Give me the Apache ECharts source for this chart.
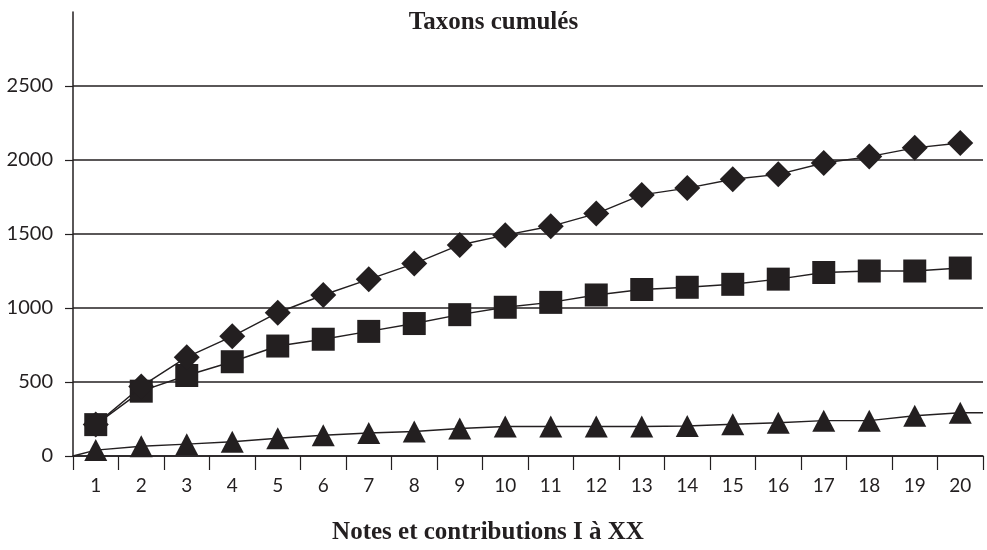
<!DOCTYPE html>
<html>
<head>
<meta charset="utf-8">
<script src="https://cdn.jsdelivr.net/npm/echarts@6/dist/echarts.min.js"></script>
<style>
html,body{margin:0;padding:0;background:#fff;}
#chart{width:987px;height:550px;}
</style>
</head>
<body>
<div id="chart"></div>
<script>
const categories = ['1','2','3','4','5','6','7','8','9','10','11','12','13','14','15','16','17','18','19','20'];
const diamondValues = [212, 470, 668, 809, 968, 1088, 1194, 1300, 1426, 1492, 1552, 1638, 1764, 1810, 1870, 1903, 1980, 2023, 2082, 2115];
const squareValues = [212, 438, 544, 637, 743, 789, 842, 895, 955, 1005, 1038, 1088, 1125, 1140, 1160, 1195, 1240, 1250, 1250, 1270];
const triangleValues = [40, 66, 80, 96, 120, 140, 155, 166, 186, 199, 199, 199, 199, 203, 215, 225, 239, 239, 272, 292];
const yTicks = [0, 500, 1000, 1500, 2000, 2500];

const ink = '#231f20';
const chart = echarts.init(document.getElementById('chart'), null, {renderer: 'canvas'});

// triangle line: starts at the origin, passes at category centres, runs to the right edge
const triLine = [[0, 0]].concat(triangleValues.map((v, i) => [i + 0.5, v])).concat([[categories.length, triangleValues[triangleValues.length - 1]]]);

chart.setOption({
  animation: false,
  backgroundColor: '#ffffff',
  title: {
    text: 'Taxons cumulés',
    left: 'center',
    top: 5,
    textStyle: {fontFamily: 'Liberation Serif', fontWeight: 'bold', fontSize: 25, color: ink}
  },
  grid: {left: 73, right: 4, top: 12, bottom: 84, containLabel: false},
  xAxis: [{
    type: 'category',
    data: categories,
    boundaryGap: true,
    name: 'Notes et contributions I à XX',
    nameLocation: 'middle',
    nameGap: 64,
    nameTextStyle: {fontFamily: 'Liberation Serif', fontWeight: 'bold', fontSize: 25, color: ink, padding: [0, 80, 0, 0]},
    axisLine: {show: true, lineStyle: {color: ink, width: 1.5}},
    axisTick: {show: true, alignWithLabel: false, length: 14, lineStyle: {color: ink, width: 1.2}},
    axisLabel: {margin: 20, fontFamily: 'Lato', fontSize: 19, color: ink},
    splitLine: {show: false}
  }, {
    type: 'value',
    min: 0,
    max: categories.length,
    show: false
  }],
  yAxis: {
    type: 'value',
    min: 0,
    max: 3000,
    interval: 500,
    axisLine: {show: true, lineStyle: {color: ink, width: 1.5}},
    axisTick: {show: true, length: 8, lineStyle: {color: ink, width: 1.2}},
    axisLabel: {
      margin: 20, fontFamily: 'Lato', fontSize: 20, color: ink,
      showMaxLabel: false,
      formatter: v => (yTicks.indexOf(v) >= 0 ? String(v) : '')
    },
    splitLine: {show: true, showMaxLine: false, lineStyle: {color: ink, width: 1.5}}
  },
  series: [
    {
      name: 'triangle-line',
      type: 'line',
      xAxisIndex: 1,
      data: triLine,
      showSymbol: false,
      symbol: 'none',
      lineStyle: {color: ink, width: 1.4},
      z: 2
    },
    {
      name: 'Triangles',
      type: 'line',
      data: triangleValues,
      symbol: 'triangle',
      symbolSize: [23, 22],
      lineStyle: {width: 0, opacity: 0},
      itemStyle: {color: ink},
      z: 3
    },
    {
      name: 'Squares',
      type: 'line',
      data: squareValues,
      symbol: 'rect',
      symbolSize: 23,
      lineStyle: {color: ink, width: 1.4},
      itemStyle: {color: ink},
      z: 3
    },
    {
      name: 'Diamonds',
      type: 'line',
      data: diamondValues,
      symbol: 'diamond',
      symbolSize: [26, 26],
      lineStyle: {color: ink, width: 1.4},
      itemStyle: {color: ink},
      z: 4
    }
  ]
});
</script>
</body>
</html>
